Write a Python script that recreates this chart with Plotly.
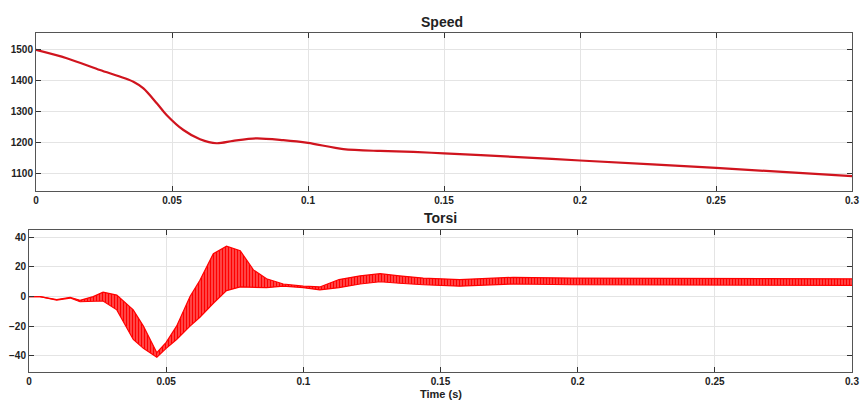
import plotly.graph_objects as go

# ---- data ----
speed_t = [0, 0.0113, 0.0235, 0.0358, 0.0395, 0.0444, 0.048, 0.0542, 0.0603, 0.0664,
           0.0725, 0.0811, 0.0909, 0.1, 0.113, 0.1265, 0.1387, 0.15, 0.1755, 0.2, 0.25, 0.3]
speed_v = [1500, 1473, 1435, 1397, 1375, 1327, 1289, 1240, 1210, 1197,
           1205, 1213, 1207, 1198, 1178, 1172, 1169, 1164, 1153, 1141, 1117, 1090]

torque_t = [0, 0.004, 0.0101, 0.015, 0.0186, 0.0234, 0.027, 0.032, 0.038, 0.0417,
            0.0466, 0.05, 0.0538, 0.0587, 0.0623, 0.0672, 0.072, 0.077, 0.0818, 0.0866,
            0.0927, 0.1, 0.106, 0.113, 0.1207, 0.128, 0.135, 0.1437, 0.157, 0.1765,
            0.198, 0.22, 0.25, 0.275, 0.3]
torque_hi = [0, 0, -2, -0.5, -2.5, 0, 3, 1, -9, -20,
             -38, -31, -20, 0, 11, 29, 34, 31, 18, 12,
             8.5, 7, 6.5, 11.5, 14, 15.5, 14, 12.5, 11.5, 13,
             12.5, 12.5, 12.5, 12.5, 12]
torque_lo = [0, 0, -2.4, -1, -3.5, -3, -3, -9, -29, -35,
             -41, -35, -29, -20, -14, -4.5, 4, 6.5, 6.5, 6,
             7, 6, 4.5, 6, 8.5, 10, 9, 8, 7, 8.5,
             8, 8, 8, 8, 7.5]

x_ticks = [0, 0.05, 0.1, 0.15, 0.2, 0.25, 0.3]
x_tick_text = ["0", "0.05", "0.1", "0.15", "0.2", "0.25", "0.3"]
speed_ticks = [1100, 1200, 1300, 1400, 1500]
torque_ticks = [-40, -20, 0, 20, 40]

W, H = 862, 401
FONT = "Liberation Sans, Arial, sans-serif"

fig = go.Figure()
fig.add_trace(go.Scatter(x=speed_t, y=speed_v, mode="lines",
                         line=dict(color="#d0141e", width=2.2, shape="spline", smoothing=0.8),
                         xaxis="x", yaxis="y", showlegend=False))

fig.add_trace(go.Scatter(x=torque_t, y=torque_lo, mode="lines",
                         line=dict(color="#ff0000", width=1.2),
                         xaxis="x2", yaxis="y2", showlegend=False))
fig.add_trace(go.Scatter(x=torque_t, y=torque_hi, mode="lines",
                         line=dict(color="#ff0000", width=1.2),
                         fill="tonexty", fillcolor="rgba(255,0,0,0.5)",
                         fillpattern=dict(shape="|", size=3, solidity=0.6,
                                          fgcolor="#ff0000", bgcolor="#ff7070",
                                          fillmode="replace"),
                         xaxis="x2", yaxis="y2", showlegend=False))

axis_common = dict(showline=True, linecolor="#555555", linewidth=1, mirror="ticks",
                   ticks="inside", ticklen=5, tickcolor="#333333", automargin=False,
                   showgrid=True, gridcolor="#e4e4e4", gridwidth=1, zeroline=False,
                   tickfont=dict(family=FONT, size=10, color="#222222", weight="bold"))

fig.update_layout(
    width=W, height=H,
    margin=dict(l=0, r=0, t=0, b=0, autoexpand=False),
    paper_bgcolor="white", plot_bgcolor="white",
    xaxis=dict(domain=[36 / W, 852 / W], anchor="y", range=[0, 0.3],
               tickvals=x_ticks, ticktext=x_tick_text, **axis_common),
    yaxis=dict(domain=[1 - 191 / H, 1 - 33 / H], anchor="x", range=[1042, 1555],
               tickvals=speed_ticks, **axis_common),
    xaxis2=dict(domain=[29 / W, 852 / W], anchor="y2", range=[0, 0.3],
                tickvals=x_ticks, ticktext=x_tick_text, **axis_common),
    yaxis2=dict(domain=[1 - 372 / H, 1 - 230 / H], anchor="x2", range=[-51, 45],
                tickvals=torque_ticks, **axis_common),
    annotations=[
        dict(text="<b>Speed</b>", x=442 / W, y=1 - 22 / H, xref="paper", yref="paper",
             showarrow=False, font=dict(family=FONT, size=14, color="#222222"),
             xanchor="center", yanchor="middle"),
        dict(text="<b>Torsi</b>", x=440 / W, y=1 - 218 / H, xref="paper", yref="paper",
             showarrow=False, font=dict(family=FONT, size=14, color="#222222"),
             xanchor="center", yanchor="middle"),
        dict(text="<b>Time (s)</b>", x=441 / W, y=1 - 394 / H, xref="paper", yref="paper",
             showarrow=False, font=dict(family=FONT, size=11, color="#222222"),
             xanchor="center", yanchor="middle"),
    ],
)

fig.write_html("out.html", config={"displayModeBar": False},
               post_script="document.body.style.margin='0';document.body.style.overflow='hidden';")
